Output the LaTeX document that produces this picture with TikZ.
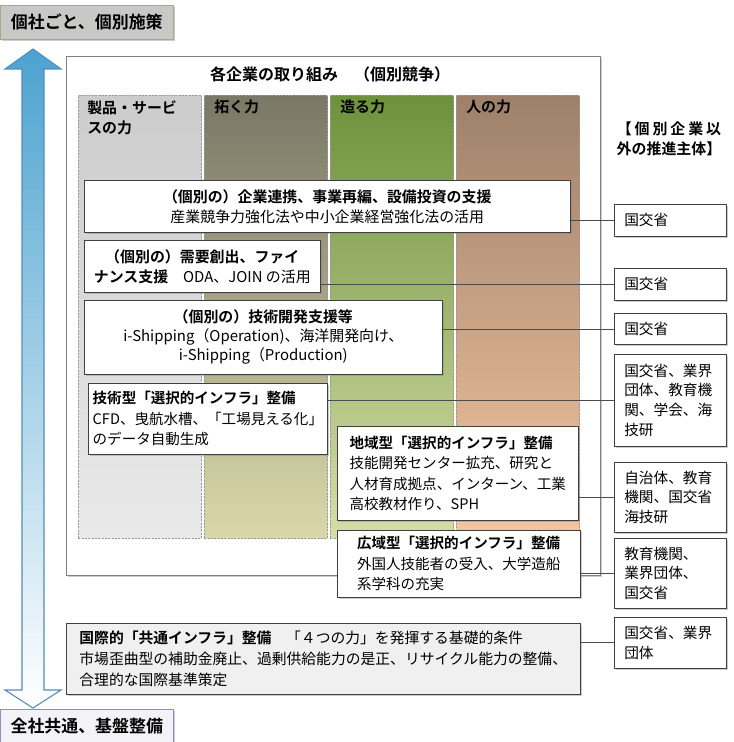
\documentclass[tikz,border=0pt]{standalone}
\usepackage{fontspec}
\setmainfont{Noto Sans CJK JP}[BoldFont={Noto Sans CJK JP Bold}]
\usepackage{xcolor}
\usepackage{tikz}
\usetikzlibrary{shadows,positioning}
\definecolor{arrowtop}{RGB}{76,163,208}
\definecolor{arrowmid}{RGB}{184,221,238}
\definecolor{arrowedge}{RGB}{84,140,190}
\definecolor{labelgray}{RGB}{200,201,198}
\definecolor{labeledge}{RGB}{160,172,130}
\definecolor{baselabel}{RGB}{243,243,247}
\definecolor{baseedge}{RGB}{142,142,192}
\definecolor{svctop}{RGB}{204,204,204}
\definecolor{svcbot}{RGB}{233,233,233}
\definecolor{opentop}{RGB}{122,120,102}
\definecolor{openbot}{RGB}{218,216,170}
\definecolor{buildtop}{RGB}{110,145,60}
\definecolor{buildbot}{RGB}{214,222,168}
\definecolor{peopletop}{RGB}{158,128,106}
\definecolor{peoplebot}{RGB}{244,198,160}
\newcommand\boxfont{\fontsize{11.2}{15}\selectfont}
\tikzset{
    shadowed/.style={
        drop shadow={shadow xshift=1.3pt, shadow yshift=-1.3pt, opacity=0.4}
    },
    sidelabel/.style={
        rectangle, shadowed, anchor=north west,
        minimum width=129.75pt, minimum height=25.5pt,
        font=\fontsize{12.7}{15}\selectfont\bfseries
    },
    column/.style={
        rectangle, draw=black!40, dash pattern=on 1.5pt off 1pt,
        anchor=north west, minimum width=92.25pt, minimum height=332.25pt
    },
    colhead/.style={
        anchor=north west, align=left, inner sep=0pt,
        font=\boxfont\bfseries
    },
    support/.style={
        rectangle, draw=black!75, fill=white, shadowed, anchor=north west,
        align=center, font=\boxfont
    },
    agency/.style={
        rectangle, draw=black!75, fill=white, shadowed, anchor=north west,
        minimum width=84pt, text width=69pt, align=left,
        font=\fontsize{11}{14.8}\selectfont
    },
    link/.style={draw=black!70, line width=0.6pt}
}
\begin{document}
\begin{tikzpicture}[x=0.75pt,y=-0.75pt]
\useasboundingbox (0,0) rectangle (733,742);

% ---- Vertical double arrow ----
\shade[top color=arrowtop, middle color=arrowmid, bottom color=white,
       draw=arrowedge, line width=0.8pt]
    (33,49) -- (61,69) -- (44,69) -- (44,690) -- (61,690) -- (33,708)
    -- (5,690) -- (22,690) -- (22,69) -- (5,69) -- cycle;

% ---- End labels ----
\node[sidelabel, fill=labelgray, draw=labeledge] (toplabel) at (0,5) {個社ごと、個別施策};
\node[sidelabel, fill=baselabel, draw=baseedge, minimum height=24.75pt] (baselabel) at (0,709) {全社共通、基盤整備};

% ---- Frame and four columns ----
\node[rectangle, draw=black!50, fill=white, shadowed, anchor=north west,
      minimum width=400.5pt, minimum height=389.25pt] (frame) at (66,56) {};
\node[font=\fontsize{12}{14}\selectfont\bfseries] (title) at (330,74) {各企業の取り組み　（個別競争）};

\node[column, top color=svctop, bottom color=svcbot] (col1) at (78,95) {};
\node[column, top color=opentop, bottom color=openbot] (col2) at (204,95) {};
\node[column, top color=buildtop, bottom color=buildbot] (col3) at (330,95) {};
\node[column, top color=peopletop, bottom color=peoplebot] (col4) at (456,95) {};

\node[colhead] (head1) at (87,100) {製品・サービ\\スの力};
\node[colhead] (head2) at (214,100) {拓く力};
\node[colhead] (head3) at (340,100) {造る力};
\node[colhead] (head4) at (466,100) {人の力};

\node[font=\boxfont\bfseries, align=center] (orghead) at (669,139)
    {【\hspace{2.2pt}個\hspace{2.2pt}別\hspace{2.2pt}企\hspace{2.2pt}業\hspace{2.2pt}以\\外の推進主体】};

% ---- Support measures (left) ----
\node[support, minimum width=364.5pt, minimum height=39pt] (sup1) at (84,180)
    {\textbf{（個別の）企業連携、事業再編、設備投資の支援}\\産業競争力強化法や中小企業経営強化法の活用};
\node[support, minimum width=177pt, minimum height=39pt] (sup2) at (84,240)
    {\textbf{（個別の）需要創出、ファイ}\\\textbf{ナンス支援}　ODA、JOIN の活用};
\node[support, minimum width=268.5pt, minimum height=55.5pt, font=\fontsize{11.2}{14.3}\selectfont] (sup3) at (84,300)
    {\textbf{（個別の）技術開発支援等}\\i-Shipping（Operation)、海洋開発向け、\\i-Shipping（Production)};
\node[support, align=left, minimum width=177pt, minimum height=53.25pt, font=\fontsize{10.9}{15.5}\selectfont] (sup4) at (88,383)
    {\textbf{技術型「選択的インフラ」整備}\\CFD、曳航水槽、「工場見える化」\\のデータ自動生成};
\node[support, align=left, minimum width=180.75pt, minimum height=70.5pt, font=\fontsize{10.9}{15.4}\selectfont] (sup5) at (337,426)
    {\textbf{地域型「選択的インフラ」整備}\\技能開発センター拡充、研究と\\人材育成拠点、インターン、工業\\高校教材作り、SPH};
\node[support, align=left, minimum width=182.25pt, minimum height=50.25pt, font=\fontsize{10.9}{15.4}\selectfont] (sup6) at (337,530)
    {\textbf{広域型「選択的インフラ」整備}\\外国人技能者の受入、大学造船\\系学科の充実};
\node[support, align=left, fill=black!6, minimum width=385.5pt, minimum height=53.25pt, font=\fontsize{11.1}{15.5}\selectfont] (sup7) at (66,623)
    {\textbf{国際的「共通インフラ」整備}　「４つの力」を発揮する基礎的条件\\市場歪曲型の補助金廃止、過剰供給能力の是正、リサイクル能力の整備、\\合理的な国際基準策定};

% ---- Promoting bodies (right) ----
\node[agency, minimum height=24pt] (org1) at (614,204) {国交省};
\node[agency, minimum height=24pt] (org2) at (614,268) {国交省};
\node[agency, minimum height=23.5pt] (org3) at (614,313) {国交省};
\node[agency, minimum height=69pt] (org4) at (614,354) {国交省、業界\\団体、教育機\\関、学会、海\\技研};
\node[agency, minimum height=52.5pt] (org5) at (614,462) {自治体、教育\\機関、国交省\\海技研};
\node[agency, minimum height=52.5pt] (org6) at (614,538) {教育機関、\\業界団体、\\国交省};
\node[agency, minimum height=38.25pt] (org7) at (614,617) {国交省、業界\\団体};

% Measures -> bodies
\draw[link] (sup1.east |- org1.west) -- (org1.west);
\draw[link] (sup2.east |- org2.west) -- (org2.west);
\draw[link] (sup3.east |- org3.west) -- (org3.west);
\draw[link] (sup4.east |- org4.west) -- (org4.west);
\draw[link] (sup5.east |- org5.west) -- (org5.west);
\draw[link] (sup6.east |- org6.west) -- (org6.west);
\draw[link] (sup7.east |- org7.west) -- (org7.west);

\end{tikzpicture}
\end{document}
